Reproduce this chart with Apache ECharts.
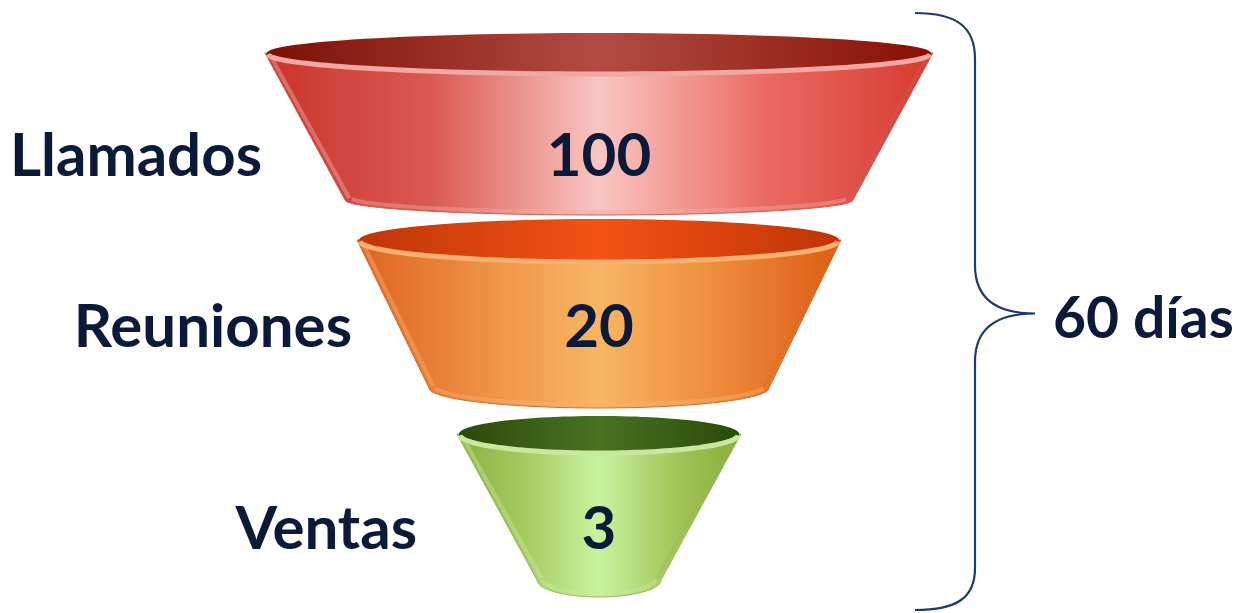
<!DOCTYPE html>
<html><head><meta charset="utf-8">
<style>html,body{margin:0;padding:0;background:#fff}#c{width:1244px;height:613px}</style>
<script src="https://cdn.jsdelivr.net/npm/echarts@6/dist/echarts.min.js"></script>
</head><body><div id="c"></div>
<script>
// ---- data ----
const stages = ['Llamados', 'Reuniones', 'Ventas'];
const values = [100, 20, 3];
const periodLabel = '60 días';

// ---- styling (geometry of the decorative 3D funnel pieces, not data) ----
const TEXT = '#0B1A38';
const FONT = 'Lato';
const FS = 60;
const looks = [
  { top: 66.8, bot: 50.8, ty: 23, tr: 20, by: 170, br: 15, vy: 127, lx: -67.4,
    body: ['#C8342C', '#DA5A52', '#F9C6C2', '#EA6A62', '#D63A30'],
    inner: ['#7E0F06', '#B24C42', '#880F04'], rim: '#F2A8A2', edge: '#C8605A' },
  { top: 48.4, bot: 34, ty: 20, tr: 21, by: 168, br: 20, vy: 108, lx: -49.4,
    body: ['#DE6420', '#EE8E42', '#F8B664', '#EE8A3A', '#DC5C14'],
    inner: ['#BE3608', '#F45214', '#BE3406'], rim: '#F8B070', edge: '#D07030' },
  { top: 28.4, bot: 12.4, ty: 24, tr: 18, by: 170, br: 17, vy: 120, lx: -36.4,
    body: ['#8AAE3E', '#A8CC62', '#C8F4A0', '#A4C85C', '#88AC38'],
    inner: ['#2A4A0C', '#4A7222', '#284A0A'], rim: '#C8E8A0', edge: '#98B860' }
];

function arc(cx, cy, rx, ry, t0, t1, n) {
  const pts = [];
  for (let k = 0; k <= n; k++) {
    const t = t0 + (t1 - t0) * k / n;
    pts.push([cx + rx * Math.cos(t), cy + ry * Math.sin(t)]);
  }
  return pts;
}
function hGrad(cols) {
  const n = cols.length;
  return { type: 'linear', x: 0, y: 0, x2: 1, y2: 0,
    colorStops: cols.map((c, i) => ({ offset: i / (n - 1), color: c })) };
}

function renderStage(params, api) {
  const i = api.value(0);
  const L = looks[i];
  const center = api.coord([0, i]);
  const bandH = api.size([0, 1])[1];
  const bandTop = center[1] - bandH / 2;
  const cx = center[0];
  const unit = api.size([1, 0])[0];
  const rt = L.top * unit, rb = L.bot * unit;
  const yt = bandTop + L.ty, yb = bandTop + L.by;

  const bodyPts = [[cx - rt, yt]]
    .concat(arc(cx, yb, rb, L.br, Math.PI, 0, 60))
    .concat([[cx + rt, yt]]);
  const innerPts = arc(cx, yt, rt - 2, L.tr, 0, Math.PI * 2, 120);
  const rimPts = arc(cx, yt + 1, rt - 3, L.tr, 0.02, Math.PI - 0.02, 80);
  const botPts = arc(cx, yb - 3, rb - 4, L.br, 0.15, Math.PI - 0.15, 60);
  const ins = 6;
  const leftBevel = [[cx - rt + ins, yt + 4], [cx - rb + ins * 0.7, yb - 2]];
  const rightBevel = [[cx + rt - ins, yt + 4], [cx + rb - ins * 0.7, yb - 2]];

  const labelX = api.coord([L.lx, i])[0];
  const vy = bandTop + L.vy;
  return {
    type: 'group',
    children: [
      { type: 'polygon', shape: { points: bodyPts },
        style: { fill: hGrad(L.body), stroke: L.edge, lineWidth: 1, opacity: 1 } },
      { type: 'polyline', shape: { points: botPts },
        style: { fill: null, stroke: L.rim, lineWidth: 4, opacity: 0.45 } },
      { type: 'polyline', shape: { points: leftBevel },
        style: { fill: null, stroke: L.rim, lineWidth: 4, opacity: 0.45 } },
      { type: 'polyline', shape: { points: rightBevel },
        style: { fill: null, stroke: L.edge, lineWidth: 3, opacity: 0.35 } },
      { type: 'polygon', shape: { points: innerPts },
        style: { fill: hGrad(L.inner) } },
      { type: 'polyline', shape: { points: rimPts },
        style: { fill: null, stroke: L.rim, lineWidth: 5 } },
      { type: 'text', x: cx, y: vy,
        style: { text: String(api.value(1)), fill: TEXT, fontFamily: FONT, fontWeight: 'bold',
          fontSize: FS, align: 'center', verticalAlign: 'middle' } },
      { type: 'text', x: labelX, y: vy,
        style: { text: stages[i], fill: TEXT, fontFamily: FONT, fontWeight: 'bold',
          fontSize: FS, align: 'right', verticalAlign: 'middle' } }
    ]
  };
}

function renderBrace(params, api) {
  const bandH = api.size([0, 1])[1];
  const top = api.coord([0, 0])[1] - bandH / 2 - 17;
  const bot = api.coord([0, stages.length - 1])[1] + bandH / 2 + 10;
  const mid = (top + bot) / 2 + 2;
  const xe = api.coord([63.2, 0])[0];
  const xv = api.coord([75.2, 0])[0];
  const xt = api.coord([87.2, 0])[0];
  const d = 'M' + xe + ',' + top +
    ' C' + (xe + 42) + ',' + top + ' ' + xv + ',' + (top + 14) + ' ' + xv + ',' + (top + 46) +
    ' L' + xv + ',' + (mid - 48) +
    ' C' + xv + ',' + (mid - 14) + ' ' + (xv + 22) + ',' + mid + ' ' + xt + ',' + mid +
    ' C' + (xv + 22) + ',' + mid + ' ' + xv + ',' + (mid + 14) + ' ' + xv + ',' + (mid + 48) +
    ' L' + xv + ',' + (bot - 42) +
    ' C' + xv + ',' + (bot - 12) + ' ' + (xe + 42) + ',' + bot + ' ' + xe + ',' + bot;
  const tx = api.coord([91.2, 0])[0];
  return {
    type: 'group',
    children: [
      { type: 'path', shape: { pathData: d },
        style: { fill: null, stroke: '#1F3A6C', lineWidth: 2.2 } },
      { type: 'text', x: tx - 2, y: mid + 6,
        style: { text: periodLabel, fill: TEXT, fontFamily: FONT, fontWeight: 'bold',
          fontSize: 57, align: 'left', verticalAlign: 'middle' } }
    ]
  };
}

const chart = echarts.init(document.getElementById('c'), null, { renderer: 'canvas' });
chart.setOption({
  animation: false,
  backgroundColor: '#ffffff',
  grid: { left: 99, width: 1000, top: 30, bottom: 13 },
  xAxis: { type: 'value', min: -100, max: 100, show: false },
  yAxis: { type: 'category', data: stages, inverse: true, show: false },
  series: [
    { type: 'custom', renderItem: renderStage, clip: false,
      encode: { y: 0, x: 1 },
      data: stages.map((s, i) => [i, values[i]]) },
    { type: 'custom', renderItem: renderBrace, clip: false, silent: true,
      data: [[0, 0]] }
  ]
});
</script></body></html>
